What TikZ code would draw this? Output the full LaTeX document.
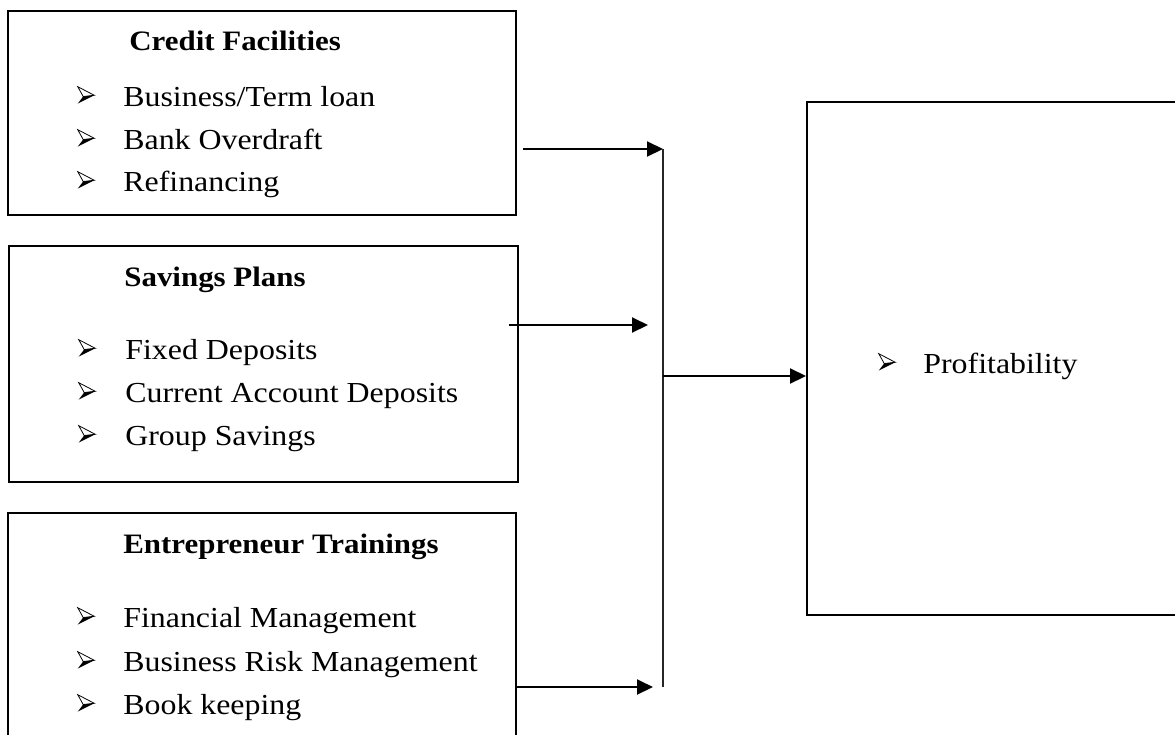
\documentclass[tikz,border=0pt]{standalone}
\usepackage{fontspec}
\setmainfont{Liberation Serif}[FakeStretch=1.1]
\usetikzlibrary{positioning, arrows.meta}

% three-d arrowhead used as list bullet
\newcommand{\arrowtip}{\tikz[baseline=0pt, x=1pt, y=1pt, line width=0.45pt]{
    \draw[fill=white] (0,11) -- (9.4,6.1) -- (3.1,5.4) -- cycle;
    \fill (3.1,5.4) -- (9.4,6.1) -- (0,1.4) -- cycle;}}

\begin{document}
\begin{tikzpicture}[x=0.02cm, y=-0.02cm, >={Triangle[length=0.32cm, width=0.3cm]}]
    \tikzset{
        block/.style={
                draw, line width=0.04cm, inner sep=0, anchor=north west
            },
        title/.style={
                anchor=base west, inner sep=0, font=\fontsize{16}{19}\selectfont\bfseries
            },
        item/.style={
                anchor=base west, inner sep=0, font=\fontsize{16.5}{19}\selectfont
            },
        link/.style={->, line width=0.04cm}
    }
    \useasboundingbox (0,0) rectangle (1175,734);

    % Boxes
    \node[block, minimum width=10.16cm, minimum height=4.08cm] (credit) at (7,10) {};
    \node[block, minimum width=10.18cm, minimum height=4.72cm] (savings) at (8,245) {};
    \node[block, minimum width=10.16cm, minimum height=5cm] (training) at (7,512) {};
    \node[block, minimum width=8cm, minimum height=10.26cm] (profit) at (806,101) {};

    % Titles
    \node[title] (creditT) at (129,50) {Credit Facilities};
    \node[title] (savingsT) at (124,286) {Savings Plans};
    \node[title] (trainingT) at (123,553) {Entrepreneur Trainings};

    % Lists
    \foreach \txt/\y [count=\i] in {{Business/Term loan}/106, Bank Overdraft/149, Refinancing/191}
    \node[item] (credit\i) at (77,\y) {\makebox[0.92cm][l]{\arrowtip}\txt};
    \foreach \txt/\y [count=\i] in {Fixed Deposits/359, Current Account Deposits/402, Group Savings/445}
    \node[item] (savings\i) at (78,\y) {\makebox[0.94cm][l]{\arrowtip}\txt};
    \foreach \txt/\y [count=\i] in {Financial Management/627, Business Risk Management/671, Book keeping/714}
    \node[item] (training\i) at (77,\y) {\makebox[0.92cm][l]{\arrowtip}\txt};
    \node[item] (profit1) at (878,373) {\makebox[0.9cm][l]{\arrowtip}Profitability};

    % Connectors
    \coordinate (top) at (663,149);
    \coordinate (mid) at (663,376);
    \coordinate (low) at (663,687);
    \coordinate (c1) at (523,149);
    \coordinate (s1) at (509,325);
    \coordinate (s2) at (648,325);
    \coordinate (t2) at (653,687);

    \draw[link] (c1) -- (top);
    \draw[link] (s1) -- (s2);
    \draw[link] (training.east |- low) -- (t2);
    \draw[line width=0.028cm, black!85] (top) -- (low);
    \draw[link] (mid) -- (profit.west |- mid);
\end{tikzpicture}
\end{document}
